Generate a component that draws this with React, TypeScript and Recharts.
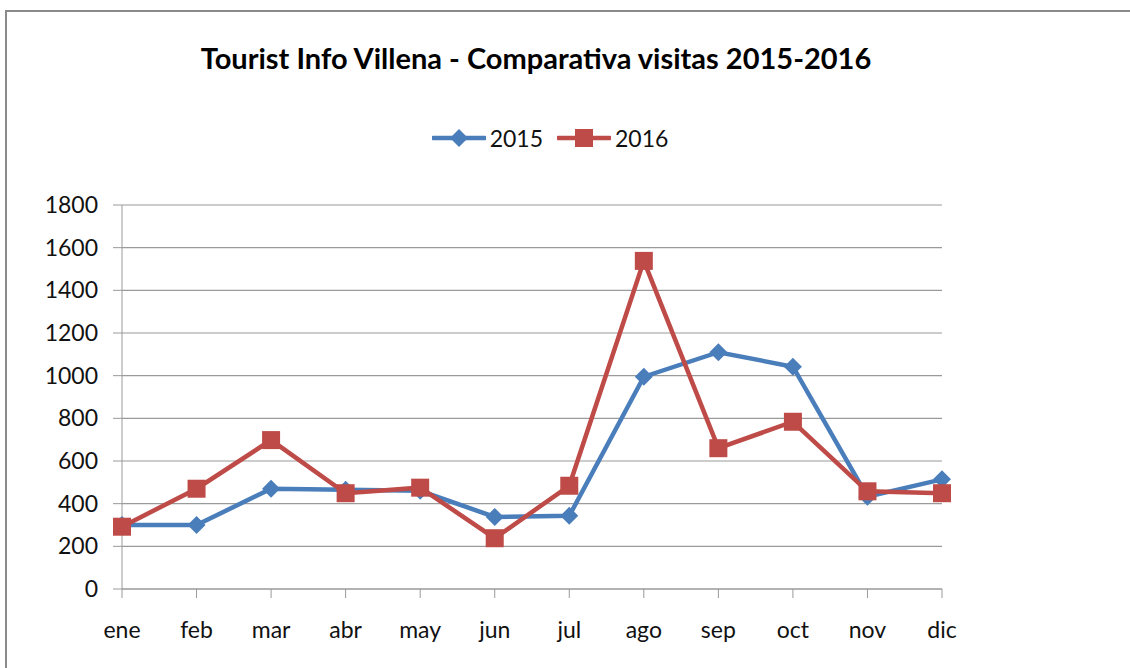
import { LineChart, Line, XAxis, YAxis, CartesianGrid, Legend } from 'recharts'

const months = ['ene', 'feb', 'mar', 'abr', 'may', 'jun', 'jul', 'ago', 'sep', 'oct', 'nov', 'dic']
const visits2015 = [300, 300, 470, 465, 460, 338, 343, 995, 1110, 1042, 433, 514]
const visits2016 = [292, 470, 698, 449, 475, 238, 484, 1538, 660, 784, 458, 449]
const yTicks = [0, 200, 400, 600, 800, 1000, 1200, 1400, 1600, 1800]

const BLUE = '#4A7EBB'
const RED = '#BE4B48'
const AXIS = '#9a9a9a'
const FONT = 'Lato, "Open Sans", sans-serif'

const data = months.map((month, i) => ({ month, v2015: visits2015[i], v2016: visits2016[i] }))

const Diamond = (props: any) => {
  const { cx, cy, index } = props
  if (cx == null || cy == null) return <g key={`d-${index}`} />
  const r = 9
  return (
    <polygon
      key={`d-${index}`}
      points={`${cx},${cy - r} ${cx + r},${cy} ${cx},${cy + r} ${cx - r},${cy}`}
      fill={BLUE}
    />
  )
}

const Square = (props: any) => {
  const { cx, cy, index } = props
  if (cx == null || cy == null) return <g key={`s-${index}`} />
  const s = 9
  return <rect key={`s-${index}`} x={cx - s} y={cy - s} width={s * 2} height={s * 2} fill={RED} />
}

const legendItems = [
  { label: '2015', color: BLUE, marker: 'diamond' },
  { label: '2016', color: RED, marker: 'square' },
]

const ChartLegend = () => (
  <div style={{ display: 'flex', justifyContent: 'center', gap: 14, fontFamily: FONT, fontSize: 23, color: '#111', height: 22 }}>
    {legendItems.map((item) => (
      <div key={item.label} style={{ display: 'flex', alignItems: 'center', gap: 4 }}>
        <svg width={54} height={20}>
          <line x1={1} y1={10} x2={53} y2={10} stroke={item.color} strokeWidth={4.5} strokeLinecap="round" />
          {item.marker === 'diamond' ? (
            <polygon points="27,1 36,10 27,19 18,10" fill={item.color} />
          ) : (
            <rect x={18} y={1} width={18} height={18} fill={item.color} />
          )}
        </svg>
        <span style={{ lineHeight: '22px' }}>{item.label}</span>
      </div>
    ))}
  </div>
)

export default function App() {
  return (
    <div style={{ position: 'absolute', left: 0, top: 0, width: 1130, height: 668, overflow: 'hidden', background: '#fff' }}>
      <div
        style={{
          position: 'absolute',
          left: 5,
          top: 10,
          width: 1300,
          height: 800,
          borderLeft: '2px solid #8a8a8a',
          borderTop: '2px solid #8a8a8a',
        }}
      />
      <div
        style={{
          position: 'absolute',
          left: 0,
          top: 43,
          width: 1072,
          textAlign: 'center',
          fontFamily: FONT,
          fontWeight: 'bold',
          fontSize: 29,
          lineHeight: '29px',
          color: '#000',
        }}
      >
        Tourist Info Villena - Comparativa visitas 2015-2016
      </div>
      <LineChart width={1130} height={668} data={data} margin={{ top: 183, right: 188, bottom: 0, left: 0 }}>
        <CartesianGrid horizontal vertical={false} stroke={AXIS} strokeWidth={1.2} />
        <XAxis
          dataKey="month"
          height={79}
          stroke={AXIS}
          tickSize={9}
          tickMargin={24}
          tick={{ fontSize: 23, fill: '#111', fontFamily: FONT }}
          interval={0}
        />
        <YAxis
          width={122}
          domain={[0, 1800]}
          ticks={yTicks}
          stroke={AXIS}
          tickSize={9}
          tickMargin={15}
          tick={{ fontSize: 23, fill: '#111', fontFamily: FONT }}
          interval={0}
        />
        <Legend verticalAlign="top" content={<ChartLegend />} wrapperStyle={{ top: 127, left: 0, width: 1100, height: 22 }} />
        <Line
          type="linear"
          dataKey="v2015"
          name="2015"
          stroke={BLUE}
          strokeWidth={4.5}
          dot={Diamond}
          isAnimationActive={false}
        />
        <Line
          type="linear"
          dataKey="v2016"
          name="2016"
          stroke={RED}
          strokeWidth={4.5}
          dot={Square}
          isAnimationActive={false}
        />
      </LineChart>
    </div>
  )
}
